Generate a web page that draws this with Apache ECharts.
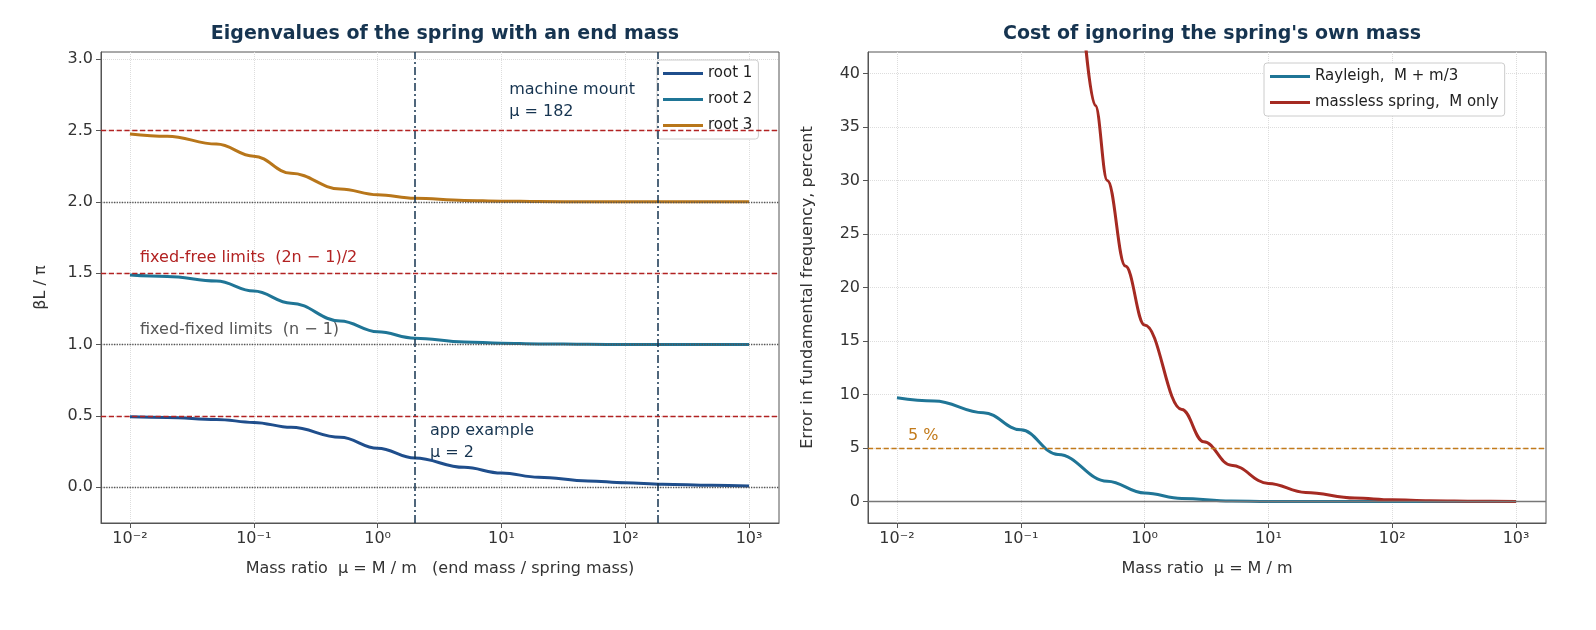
<!DOCTYPE html>
<html>
<head>
<meta charset="UTF-8">
<script src="https://cdn.jsdelivr.net/npm/echarts@6/dist/echarts.min.js"></script>
<style>
  body { margin: 0; background: #fff; }
  #chart { width: 1596px; height: 630px; }
</style>
</head>
<body>
<div id="chart"></div>
<script>
// values
var mu = [0.01, 0.02, 0.05, 0.1, 0.2, 0.5, 1, 2, 5, 10, 20, 50, 100, 200, 500, 1000];
var root1 = [0.494, 0.49, 0.476, 0.455, 0.42, 0.35, 0.274, 0.205, 0.14, 0.10, 0.071, 0.045, 0.032, 0.022, 0.014, 0.010];
var root2 = [1.487, 1.477, 1.445, 1.375, 1.29, 1.165, 1.09, 1.045, 1.019, 1.01, 1.005, 1.002, 1.001, 1.0, 1.0, 1.0];
var root3 = [2.476, 2.46, 2.405, 2.32, 2.2, 2.09, 2.05, 2.025, 2.01, 2.005, 2.002, 2.001, 2.0, 2.0, 2.0, 2.0];
var rayleigh = [9.7, 9.4, 8.3, 6.7, 4.4, 1.9, 0.8, 0.3, 0.06, 0.02, 0.01, 0, 0, 0, 0, 0];
var muMassless = [0.3, 0.4, 0.5, 0.7, 1, 2, 3, 5, 10, 20, 50, 100, 200, 500, 1000];
var massless = [49, 37, 30, 22, 16.5, 8.6, 5.6, 3.4, 1.7, 0.85, 0.33, 0.17, 0.08, 0.03, 0.02];
var decades = [-2, -1, 0, 1, 2, 3];
var leftTicks = [0, 0.5, 1, 1.5, 2, 2.5, 3];
var rightTicks = [0, 5, 10, 15, 20, 25, 30, 35, 40];
var muApp = 2, muMachine = 182;

var sup = {'-': '⁻', '0': '⁰', '1': '¹', '2': '²', '3': '³'};
function decLabel(v) {
  return '10' + String(Math.round(v)).split('').map(function (c) { return sup[c]; }).join('');
}
function pts(xs, ys) { return xs.map(function (x, i) { return [Math.log10(x), ys[i]]; }); }

var font = 'DejaVu Sans';
var txt = '#333';
function xAxis(idx, name) {
  return {
    type: 'value', gridIndex: idx, min: -2.234, max: 3.242,
    name: name, nameLocation: 'middle', nameGap: 38,
    nameTextStyle: { fontSize: 16, color: txt, fontFamily: font },
    axisLine: { onZero: false, lineStyle: { color: '#555' } },
    axisTick: { customValues: decades, lineStyle: { color: '#555' } },
    axisLabel: { customValues: decades, formatter: decLabel, fontSize: 16, color: txt, fontFamily: font },
    splitLine: { show: true, lineStyle: { type: 'dotted', color: '#ddd' } }
  };
}
function yAxis(idx, min, max, ticks, name, fmt) {
  return {
    type: 'value', gridIndex: idx, min: min, max: max,
    name: name, nameLocation: 'middle', nameGap: 52,
    nameTextStyle: { fontSize: 16, color: txt, fontFamily: font },
    axisLine: { show: true, onZero: false, lineStyle: { color: '#555' } },
    axisTick: { show: true, customValues: ticks, lineStyle: { color: '#555' } },
    axisLabel: { customValues: ticks, formatter: fmt, fontSize: 16, color: txt, fontFamily: font },
    splitLine: { show: true, lineStyle: { type: 'dotted', color: '#ddd' } }
  };
}
function hline(y, color, type, width) {
  return { yAxis: y, lineStyle: { color: color, type: type, width: width || 1.3 } };
}
function curve(name, xi, xs, ys, color) {
  return { name: name, type: 'line', xAxisIndex: xi, yAxisIndex: xi, data: pts(xs, ys),
    smooth: 0.4, smoothMonotone: 'x', showSymbol: false,
    lineStyle: { width: 3, color: color }, itemStyle: { color: color } };
}

var chart = echarts.init(document.getElementById('chart'));
var s1 = curve('root 1', 0, mu, root1, '#1f4e8c');
s1.markLine = { silent: true, symbol: 'none', label: { show: false }, data: [
  hline(0, '#555', 'dotted'), hline(1, '#555', 'dotted'), hline(2, '#555', 'dotted'),
  hline(0.5, '#b22222', 'dashed'), hline(1.5, '#b22222', 'dashed'), hline(2.5, '#b22222', 'dashed'),
  { xAxis: Math.log10(muApp), lineStyle: { color: '#163450', type: [8, 3, 2, 3], width: 1.5 } },
  { xAxis: Math.log10(muMachine), lineStyle: { color: '#163450', type: [8, 3, 2, 3], width: 1.5 } }
] };
var s4 = curve('Rayleigh,  M + m/3', 1, mu, rayleigh, '#1f7596');
s4.markLine = { silent: true, symbol: 'none', label: { show: false }, data: [
  hline(0, '#777', 'solid'), hline(5, '#c27a1a', 'dashed')
] };

chart.setOption({
  animation: false,
  textStyle: { fontFamily: font },
  title: [
    { text: 'Eigenvalues of the spring with an end mass', left: 440, top: 20, textAlign: 'center',
      textStyle: { fontSize: 19, fontWeight: 'bold', color: '#163450' } },
    { text: "Cost of ignoring the spring's own mass", left: 1207, top: 20, textAlign: 'center',
      textStyle: { fontSize: 19, fontWeight: 'bold', color: '#163450' } }
  ],
  grid: [
    { left: 101, top: 52, width: 678, height: 471, show: true, borderColor: '#555', backgroundColor: 'transparent' },
    { left: 868, top: 52, width: 678, height: 471, show: true, borderColor: '#555', backgroundColor: 'transparent' }
  ],
  xAxis: [
    xAxis(0, 'Mass ratio  \u03bc = M / m   (end mass / spring mass)'),
    xAxis(1, 'Mass ratio  \u03bc = M / m')
  ],
  yAxis: [
    yAxis(0, -0.25, 3.05, leftTicks, '\u03b2L / \u03c0', function (v) { return v.toFixed(1); }),
    yAxis(1, -2, 42, rightTicks, 'Error in fundamental frequency, percent', function (v) { return String(v); })
  ],
  legend: [
    { data: ['root 1', 'root 2', 'root 3'], orient: 'vertical', left: 657, top: 60,
      itemWidth: 40, itemHeight: 3, itemGap: 11, backgroundColor: '#fff', borderColor: '#ccc', borderWidth: 1,
      borderRadius: 3, padding: [6, 6], textStyle: { fontSize: 15, color: '#222' }, icon: 'rect' },
    { data: ['Rayleigh,  M + m/3', 'massless spring,  M only'], orient: 'vertical', left: 1264, top: 63,
      itemWidth: 40, itemHeight: 3, itemGap: 11, backgroundColor: '#fff', borderColor: '#ccc', borderWidth: 1,
      borderRadius: 3, padding: [6, 6], textStyle: { fontSize: 15, color: '#222' }, icon: 'rect' }
  ],
  series: [
    s1,
    curve('root 2', 0, mu, root2, '#1f7596'),
    curve('root 3', 0, mu, root3, '#b8761a'),
    s4,
    curve('massless spring,  M only', 1, muMassless, massless, '#a52a22')
  ],
  graphic: [
    { type: 'text', left: 140, top: 250, style: { text: 'fixed-free limits  (2n \u2212 1)/2', fill: '#b22222', fontSize: 16, fontFamily: font } },
    { type: 'text', left: 140, top: 322, style: { text: 'fixed-fixed limits  (n \u2212 1)', fill: '#555', fontSize: 16, fontFamily: font } },
    { type: 'text', right: 961, top: 79, style: { text: 'machine mount\n\u03bc = 182', align: 'right', fill: '#163450', fontSize: 16, lineHeight: 22, fontFamily: font } },
    { type: 'text', left: 430, top: 420, style: { text: 'app example\n\u03bc = 2', fill: '#163450', fontSize: 16, lineHeight: 22, fontFamily: font } },
    { type: 'text', left: 908, top: 428, style: { text: '5 %', fill: '#c27a1a', fontSize: 16, fontFamily: font } }
  ]
});
</script>
</body>
</html>
